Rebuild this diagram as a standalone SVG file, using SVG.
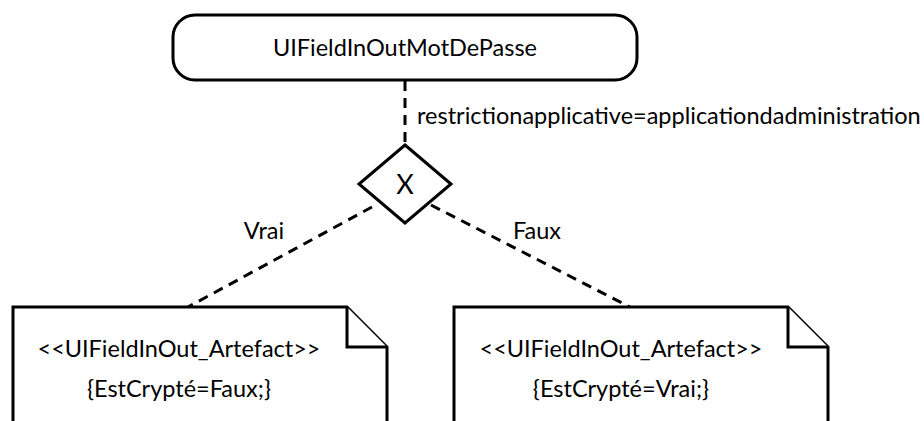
<svg xmlns="http://www.w3.org/2000/svg" width="924" height="421" viewBox="0 0 924 421">
<style>
.s{fill:#fff;stroke:#000;stroke-width:3;stroke-linejoin:miter}
.t{font-family:Lato,"Open Sans","Liberation Sans",sans-serif;font-size:23.5px;fill:#000}
.c{stroke:#000;stroke-width:3;stroke-dasharray:10,7;fill:none}
</style>
<rect width="924" height="421" fill="#fff"/>
<g id="connectors">
<line class="c" x1="405" y1="81" x2="405" y2="145"/>
<line class="c" x1="372" y1="207" x2="188" y2="307"/>
<line class="c" x1="431" y1="205" x2="630" y2="307"/>
<text class="t" x="417" y="124">restrictionapplicative=applicationdadministration</text>
<text class="t" x="264" y="239" text-anchor="middle">Vrai</text>
<text class="t" x="537" y="239" text-anchor="middle">Faux</text>
</g>
<g id="start">
<rect class="s" x="173" y="15" width="464" height="65" rx="22" ry="22"/>
<text class="t" x="405" y="56" text-anchor="middle">UIFieldInOutMotDePasse</text>
</g>
<g id="gateway">
<polygon class="s" points="405,145 451,184 405,223 359,184"/>
<text class="t" x="405" y="194" text-anchor="middle" style="font-size:27px">X</text>
</g>
<g id="noteFaux">
<path class="s" d="M13,430 V307 H347 L387,347 V430"/>
<path class="s" fill="none" d="M347,307 V347 H387"/>
<text class="t" x="179" y="357" text-anchor="middle">&lt;&lt;UIFieldInOut_Artefact&gt;&gt;</text>
<text class="t" x="179" y="397" text-anchor="middle">{EstCrypté=Faux;}</text>
</g>
<g id="noteVrai">
<path class="s" d="M454,430 V307 H788 L828,347 V430"/>
<path class="s" fill="none" d="M788,307 V347 H828"/>
<text class="t" x="621" y="357" text-anchor="middle">&lt;&lt;UIFieldInOut_Artefact&gt;&gt;</text>
<text class="t" x="621" y="397" text-anchor="middle">{EstCrypté=Vrai;}</text>
</g>
</svg>
